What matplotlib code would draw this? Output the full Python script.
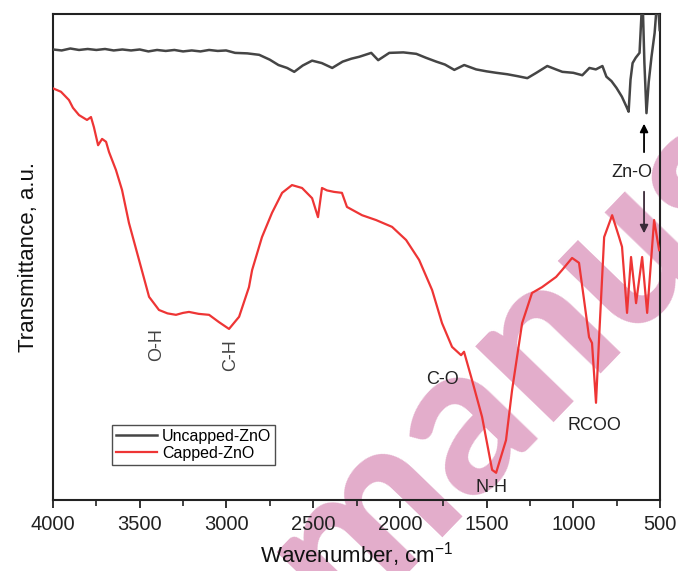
import matplotlib.pyplot as plt
from matplotlib.ticker import MultipleLocator

plt.rcParams['font.family'] = ['Liberation Sans', 'DejaVu Sans']

# Uncapped-ZnO (black) spectrum, wavenumber in cm-1 and transmittance in a.u.
wn_uncapped = [4000, 3950, 3900, 3850, 3800, 3750, 3700, 3650, 3600, 3550, 3500, 3450, 3400,
               3350, 3300, 3250, 3200, 3150, 3100, 3050, 3002, 2950, 2880, 2811, 2750, 2700,
               2650, 2609, 2560, 2506, 2450, 2390, 2330, 2280, 2234, 2165, 2125, 2061, 1980,
               1905, 1850, 1790, 1740, 1686, 1629, 1560, 1500, 1444, 1380, 1320, 1265, 1213,
               1150, 1100, 1063, 1000, 948, 907, 870, 832, 809, 780, 751, 720, 693, 681, 670,
               658, 640, 618, 601, 590, 578, 565, 549, 531, 514, 502]
t_uncapped = [92.7, 92.5, 92.9, 92.6, 92.8, 92.6, 92.8, 92.5, 92.7, 92.5, 92.7, 92.3, 92.6,
              92.4, 92.6, 92.3, 92.5, 92.3, 92.6, 92.4, 92.5, 92.0, 91.9, 91.6, 90.6, 89.5,
              88.9, 88.1, 89.4, 90.4, 89.9, 88.9, 90.2, 90.8, 91.2, 92.0, 90.5, 92.0, 92.1,
              91.8, 91.0, 90.2, 89.6, 88.5, 89.5, 88.6, 88.2, 87.9, 87.6, 87.2, 86.8, 87.9,
              89.3, 88.6, 88.1, 87.9, 87.4, 88.9, 88.6, 89.3, 87.1, 86.2, 84.8, 83.0, 80.9, 79.9, 86.5,
              89.9, 91.0, 92.0, 104.0, 90.0, 79.6, 86.0, 91.2, 96.1, 104.0, 96.7]

# Capped-ZnO (red) spectrum
wn_capped = [4000, 3954, 3908, 3885, 3850, 3804, 3781, 3764, 3740, 3717, 3694, 3677, 3637,
             3602, 3562, 3504, 3446, 3389, 3340, 3291, 3250, 3216, 3160, 3100, 3043, 2985,
             2927, 2870, 2852, 2795, 2737, 2679, 2622, 2564, 2506, 2472, 2449, 2420, 2380,
             2334, 2305, 2218, 2137, 2045, 1964, 1889, 1814, 1757, 1699, 1647, 1630, 1584,
             1526, 1468, 1445, 1388, 1353, 1295, 1238, 1180, 1099, 1065, 1007, 967, 938, 909,
             892, 869, 851, 822, 776, 736, 719, 690, 667, 638, 603, 574, 534, 505]
t_capped = [84.7, 84.0, 82.3, 80.7, 79.2, 78.2, 78.8, 76.7, 73.0, 74.3, 73.7, 71.6, 67.9,
            63.8, 57.0, 49.4, 41.8, 39.1, 38.4, 38.1, 38.5, 38.7, 38.3, 38.1, 36.6, 35.2,
            37.7, 43.8, 47.3, 54.1, 59.1, 63.2, 64.8, 64.2, 62.1, 58.2, 64.2, 63.7, 63.4,
            63.2, 60.3, 58.6, 57.6, 56.2, 53.5, 49.4, 43.2, 36.4, 31.5, 29.8, 30.5, 24.7,
            17.1, 6.2, 5.6, 12.3, 22.6, 36.4, 42.6, 43.8, 45.9, 47.3, 49.8, 48.8, 41.2, 33.5,
            32.3, 20.0, 33.5, 54.1, 58.6, 54.1, 52.1, 38.5, 50.0, 40.5, 50.0, 38.5, 57.6, 51.4]

fig = plt.figure(figsize=(6.78, 5.71), dpi=100)
ax = fig.add_axes([53 / 678, 71 / 571, 607 / 678, 486 / 571])
ax.patch.set_alpha(0)

ax.plot(wn_uncapped, t_uncapped, color='#454545', lw=1.8, label='Uncapped-ZnO', zorder=3)
ax.plot(wn_capped, t_capped, color='#ee3535', lw=1.6, label='Capped-ZnO', zorder=3)

ax.set_xlim(4000, 500)
ax.set_ylim(0, 100)
ax.xaxis.set_major_locator(MultipleLocator(500))
ax.xaxis.set_minor_locator(MultipleLocator(250))
ax.set_yticks([])
ax.tick_params(axis='x', which='major', direction='out', length=6, width=1.3,
               labelsize=14.5, pad=5, colors='#222222')
ax.tick_params(axis='x', which='minor', direction='out', length=4, width=1.2, colors='#222222')
for s in ax.spines.values():
    s.set_linewidth(1.5)
    s.set_color('#222222')

ax.set_xlabel(r'Wavenumber, cm$^{\mathregular{-1}}$', fontsize=16, labelpad=4, color='#111111')
ax.set_ylabel('Transmittance, a.u.', fontsize=16, labelpad=10, color='#111111')

# peak labels
ax.text(3400, 31.9, 'O-H', rotation=90, ha='center', va='center', fontsize=13, color='#444444')
ax.text(2973, 29.8, 'C-H', rotation=90, ha='center', va='center', fontsize=13, color='#444444')
ax.text(1757, 24.7, 'C-O', ha='center', va='center', fontsize=13, color='#222222')
ax.text(1474, 2.5, 'N-H', ha='center', va='center', fontsize=13, color='#222222')
ax.text(880, 15.4, 'RCOO', ha='center', va='center', fontsize=13, color='#222222')
ax.text(661, 67.3, 'Zn-O', ha='center', va='center', fontsize=13, color='#222222')
ax.annotate('', xy=(592, 78.0), xytext=(592, 71.0),
            arrowprops=dict(arrowstyle='-|>', color='black', lw=1.3, mutation_scale=12))
ax.annotate('', xy=(592, 54.3), xytext=(592, 64.0),
            arrowprops=dict(arrowstyle='-|>', color='#3a2a38', lw=1.3, mutation_scale=12))

leg = ax.legend(loc='lower left', bbox_to_anchor=(0.097, 0.072), borderaxespad=0,
                fontsize=11.5, frameon=True, fancybox=False, handlelength=2.6,
                handletextpad=0.3, borderpad=0.25, labelspacing=0.15)
leg.get_frame().set_edgecolor('#222222')
leg.get_frame().set_linewidth(1.0)

# pink watermark behind the plot
fig.text(0.758, 0.365, 'manus', rotation=46, fontsize=152, fontweight='black',
         family='Lato', color='#e3adcb', ha='center', va='center', zorder=-1)

fig.savefig('out.png', dpi=100)
